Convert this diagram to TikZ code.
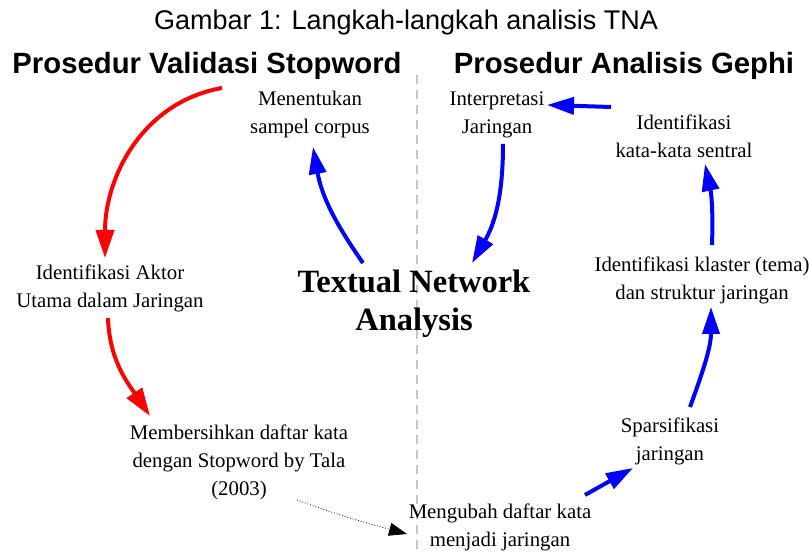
\documentclass[tikz,border=0pt]{standalone}
\usepackage{fontspec}
\setmainfont{Liberation Serif}
\setsansfont{Liberation Sans}
\usetikzlibrary{arrows.meta}

\begin{document}
\begin{tikzpicture}[x = 1pt, y = 1pt]
\tikzstyle{titleStyle} = [inner sep = 1pt, font = \sffamily\fontsize{27}{32}\selectfont]
\tikzstyle{headStyle} = [inner sep = 1pt, font = \sffamily\bfseries\fontsize{29.3}{34}\selectfont]
\tikzstyle{stepStyle} = [align = center, inner sep = 1pt, font = \fontsize{20.8}{28}\selectfont]
\tikzstyle{tnaStyle} = [align = center, inner sep = 1pt, font = \bfseries\fontsize{32.5}{38}\selectfont]
\tikzstyle{redArrow} = [color = red, line width = 4pt, -{Triangle[length = 28pt, width = 18pt]}]
\tikzstyle{blueArrow} = [color = blue, line width = 4pt, -{Triangle[length = 27pt, width = 17pt]}]
\tikzstyle{dotArrow} = [line width = 0.8pt, dotted, -{Triangle[length = 18pt, width = 13pt]}]
\useasboundingbox (0,0) rectangle (809,553);
% garis pemisah
\draw[gray!45, line width = 1.5pt, dash pattern = on 9pt off 6pt] (417,478) -- (417,0);
% judul
\node[titleStyle] (judul) at (406,530) {Gambar 1: Langkah-langkah analisis TNA};
\node[headStyle] (hkiri) at (207,487) {Prosedur Validasi Stopword};
\node[headStyle] (hkanan) at (624,487) {Prosedur Analisis Gephi};
% langkah
\node[stepStyle] (tentukan) at (310,438) {Menentukan\\sampel corpus};
\node[stepStyle] (interp) at (497,438) {Interpretasi\\Jaringan};
\node[stepStyle] (sentral) at (684,417) {Identifikasi\\kata-kata sentral};
\node[stepStyle] (klaster) at (702,273) {Identifikasi klaster (tema)\\dan struktur jaringan};
\node[stepStyle] (spars) at (670,112) {Sparsifikasi\\jaringan};
\node[stepStyle] (ubah) at (500,26) {Mengubah daftar kata\\menjadi jaringan};
\node[stepStyle] (bersih) at (239,91) {Membersihkan daftar kata\\dengan Stopword by Tala\\(2003)};
\node[stepStyle] (aktor) at (110,265) {Identifikasi Aktor\\Utama dalam Jaringan};
\node[tnaStyle] (tna) at (414,249) {Textual Network\\Analysis};
% panah
\draw[redArrow] ([shift = {(15,-22)}]hkiri.center) to[out = 190, in = 90] ([shift = {(-5,30)}]aktor.center);
\draw[redArrow] ([shift = {(-2,-30)}]aktor.center) to[out = -88, in = 124] ([shift = {(-89,46)}]bersih.center);
\draw[dotArrow] ([shift = {(58,-38)}]bersih.center) to[out = -20, in = 165] ([shift = {(-93,-7)}]ubah.center);
\draw[blueArrow] ([shift = {(85,32)}]ubah.center) -- ([shift = {(-37,-27)}]spars.center);
\draw[blueArrow] ([shift = {(20,34)}]spars.center) to[out = 70, in = -90] ([shift = {(9,-27)}]klaster.center);
\draw[blueArrow] ([shift = {(10,35)}]klaster.center) to[out = 88, in = -78] ([shift = {(21,-28)}]sentral.center);
\draw[blueArrow] ([shift = {(-73,29)}]sentral.center) -- ([shift = {(50,10)}]interp.center);
\draw[blueArrow] ([shift = {(6,-29)}]interp.center) to[out = -90, in = 60] ([shift = {(58,41)}]tna.center);
\draw[blueArrow] ([shift = {(-51,41)}]tna.center) to[out = 125, in = -80] ([shift = {(3,-32)}]tentukan.center);
\end{tikzpicture}
\end{document}
